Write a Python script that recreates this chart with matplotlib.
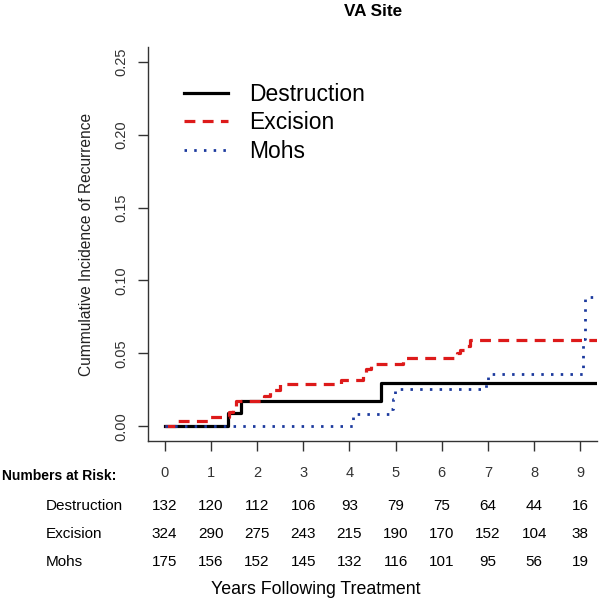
# Cumulative incidence of recurrence by treatment, VA site

import matplotlib
matplotlib.use("Agg")
import matplotlib.pyplot as plt
from matplotlib.transforms import blended_transform_factory

plt.rcParams['font.family'] = ['Liberation Sans', 'DejaVu Sans']

# step curves (time in years, cumulative incidence)
destr_t = [0, 1.38, 1.66, 4.68, 9.36]
destr_y = [0, 0.0092, 0.0175, 0.0295, 0.0295]

excis_t = [0, 0.24, 0.96, 1.40, 1.47, 1.55, 2.15, 2.28, 2.50, 3.82, 4.29, 4.37, 4.46,
           5.16, 6.33, 6.40, 6.53, 6.62, 9.36]
excis_y = [0, 0.0035, 0.0066, 0.010, 0.014, 0.0177, 0.021, 0.025, 0.0288, 0.032, 0.0368,
           0.0395, 0.0425, 0.047, 0.050, 0.0527, 0.055, 0.0595, 0.0595]

mohs_t = [0, 4.08, 4.88, 4.94, 4.99, 6.96, 6.99, 9.06, 9.09, 9.36]
mohs_y = [0, 0.0082, 0.012, 0.0185, 0.0255, 0.032, 0.0357, 0.060, 0.089, 0.089]

years = list(range(10))
risk_destruction = [132, 120, 112, 106, 93, 79, 75, 64, 44, 16]
risk_excision = [324, 290, 275, 243, 215, 190, 170, 152, 104, 38]
risk_mohs = [175, 156, 152, 145, 132, 116, 101, 95, 56, 19]

W, H = 600, 599
fig = plt.figure(figsize=(W / 100, H / 100), dpi=100)
ax = fig.add_axes([148 / W, 1 - 441 / H, 449 / W, 394 / H])

red = '#dd1a1a'
blue = '#1c3a9e'
ax.step(destr_t, destr_y, where='post', color='black', lw=2.3, label='Destruction')
ax.step(excis_t, excis_y, where='post', color=red, lw=2.3, dashes=(3.4, 2.3), label='Excision')
ax.step(mohs_t, mohs_y, where='post', color=blue, lw=2.0, dashes=(0.9, 2.6), label='Mohs')

ax.set_xlim(-0.36, 9.36)
ax.set_ylim(-0.01, 0.26)
for s in ['top', 'right']:
    ax.spines[s].set_visible(False)
for s in ['left', 'bottom']:
    ax.spines[s].set_color('#333333')
    ax.spines[s].set_linewidth(1.0)

ax.set_xticks(years)
ax.set_xticklabels([str(v) for v in years], fontsize=10.5, color='#333333')
ax.tick_params(axis='x', length=7, width=1, color='#333333', pad=11)
yt = [0, 0.05, 0.10, 0.15, 0.20, 0.25]
ax.set_yticks(yt)
ax.set_yticklabels([f'{v:.2f}' for v in yt], rotation=90, va='center', fontsize=10.5, color='#333333')
ax.tick_params(axis='y', length=7, width=1, color='#333333', pad=7)

ax.set_ylabel('Cummulative Incidence of Recurrence', fontsize=11.2, color='#222222', labelpad=15)

leg = ax.legend(loc='upper left', bbox_to_anchor=(0.059, 0.933), frameon=False, fontsize=16.5,
                handlelength=1.95, handletextpad=0.92, labelspacing=0.25, borderaxespad=0)

fig.text(373 / W, 1 - 11 / H, 'VA Site', ha='center', va='center', fontsize=12.3, fontweight='bold')

# numbers at risk table
tr = blended_transform_factory(ax.transData, fig.transFigure)
fig.text(116 / W, 1 - 476 / H, 'Numbers at Risk:', ha='right', va='center', fontsize=10, fontweight='bold')
rows = [('Destruction', risk_destruction, 506), ('Excision', risk_excision, 534), ('Mohs', risk_mohs, 562)]
for name, vals, ypx in rows:
    fig.text(46 / W, 1 - ypx / H, name, ha='left', va='center', fontsize=11)
    for x, v in zip(years, vals):
        fig.text(x, 1 - ypx / H, str(v), ha='center', va='center', fontsize=11, transform=tr)

fig.text(316 / W, 1 - 589 / H, 'Years Following Treatment', ha='center', va='center', fontsize=12.8)

fig.savefig('out.png', dpi=100)
